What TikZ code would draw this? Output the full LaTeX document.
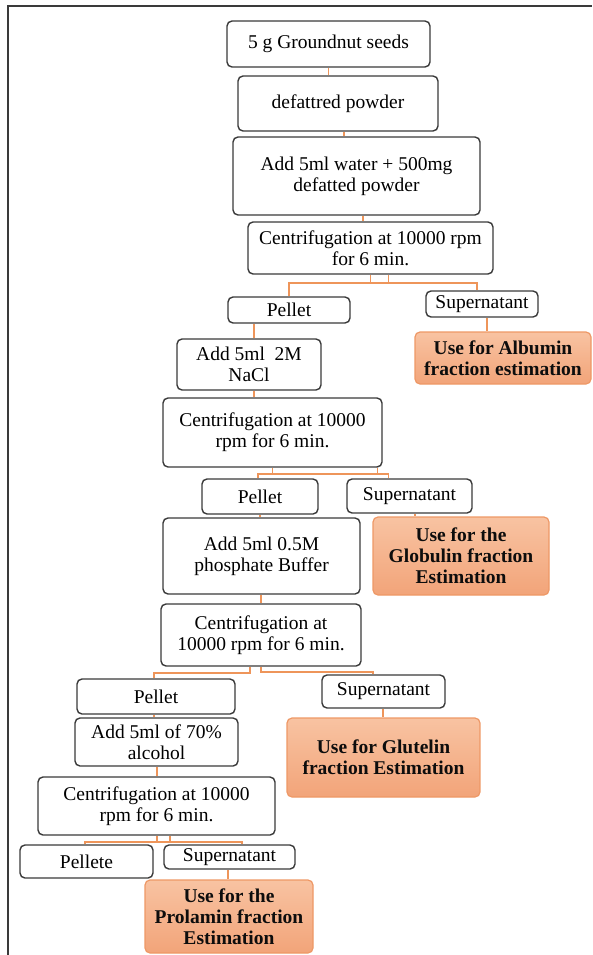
\documentclass[tikz,border=0pt]{standalone}
\usepackage{fontspec}
\setmainfont{Liberation Serif}
\usepackage{tikz}
\definecolor{lnorange}{HTML}{EE955A}
\definecolor{bxgray}{HTML}{3A3A3A}
\definecolor{bxtop}{HTML}{F8C3A2}
\definecolor{bxbot}{HTML}{F2A479}
\definecolor{bxedge}{HTML}{EE9866}
\tikzset{
  flownode/.style = {align=center, inner sep=0pt, text centered,
    font=\fontsize{19.5}{21}\selectfont},
  box_w/.style = {flownode, rectangle, rounded corners=5pt, draw=bxgray,
    line width=1.4pt, fill=white, text=black},% step box, white
  box_o/.style = {flownode, rectangle, rounded corners=5pt, draw=bxedge,
    line width=1.2pt, top color=bxtop, bottom color=bxbot, text=black!95,
    font=\fontsize{19.5}{21}\selectfont\bfseries},% result box, orange
  lnk/.style = {draw=lnorange, line width=1.9pt}% connector
}

\begin{document}
\begin{tikzpicture}[x=1pt,y=-1pt]
        \useasboundingbox (0,0) rectangle (592,955);
        \draw[bxgray, line width=1.3pt] (8,955) -- (8,6) -- (592,6);

        \node[box_w, minimum width=203pt, minimum height=46pt] (seeds) at (328.5,44) {5 g Groundnut seeds};
        \node[box_w, minimum width=200pt, minimum height=55pt] (powder) at (338,103.5) {defattred powder};
        \node[box_w, minimum width=247pt, minimum height=78pt] (water) at (356.5,176) {Add 5ml water + 500mg\\defatted powder};
        \node[box_w, minimum width=245pt, minimum height=52pt] (cent1) at (370.5,248) {Centrifugation at 10000 rpm\\for 6 min.};
        \node[box_w, minimum width=122pt, minimum height=26pt] (pel1) at (289,310) {Pellet};
        \node[box_w, minimum width=112pt, minimum height=26pt] (sup1) at (482,304) {Supernatant};
        \node[box_o, minimum width=176pt, minimum height=52pt] (alb) at (503,358) {Use for Albumin\\fraction estimation};
        \node[box_w, minimum width=144pt, minimum height=51pt] (nacl) at (249,364.5) {Add 5ml\ \ 2M\\NaCl};
        \node[box_w, minimum width=219pt, minimum height=69pt] (cent2) at (272.5,432.5) {Centrifugation at 10000\\rpm for 6 min.};
        \node[box_w, minimum width=116pt, minimum height=35pt] (pel2) at (260,496.5) {Pellet};
        \node[box_w, minimum width=125pt, minimum height=34pt] (sup2) at (409.5,496) {Supernatant};
        \node[box_w, minimum width=197pt, minimum height=76pt] (phos) at (261.5,556) {Add 5ml 0.5M\\phosphate Buffer};
        \node[box_o, minimum width=176pt, minimum height=78pt] (glob) at (461,556) {Use for the\\Globulin fraction\\Estimation};
        \node[box_w, minimum width=200pt, minimum height=62pt] (cent3) at (261,635) {Centrifugation at\\10000 rpm for 6 min.};
        \node[box_w, minimum width=158pt, minimum height=35pt] (pel3) at (156,696.5) {Pellet};
        \node[box_w, minimum width=123pt, minimum height=33pt] (sup3) at (383.5,691.5) {Supernatant};
        \node[box_w, minimum width=163pt, minimum height=48pt] (alc) at (156.5,742) {Add 5ml of 70\%\\alcohol};
        \node[box_o, minimum width=193pt, minimum height=79pt] (glut) at (383.5,757.5) {Use for Glutelin\\fraction Estimation};
        \node[box_w, minimum width=237pt, minimum height=58pt] (cent4) at (156.5,806) {Centrifugation at 10000\\rpm for 6 min.};
        \node[box_w, minimum width=133pt, minimum height=33pt] (pellete) at (86.5,861.5) {Pellete};
        \node[box_w, minimum width=131pt, minimum height=24pt] (sup4) at (229.5,857) {Supernatant};
        \node[box_o, minimum width=168pt, minimum height=73pt] (prol) at (229,916.5) {Use for the\\Prolamin fraction\\Estimation};

        \draw[lnk] (seeds.south) -- (seeds.south |- powder.north);
        \draw[lnk] ([xshift=6pt]powder.south) -- ([xshift=6pt]powder.south |- water.north);
        \draw[lnk] ([xshift=6.5pt]water.south) -- ([xshift=6.5pt]water.south |- cent1.north);
        % first split
        \draw[lnk] (cent1.south) -- ++(0,8) coordinate (s1) -- ++(18,0) -- ++(0,-8);
        \draw[lnk] (pel1.north) |- (s1) -| ([xshift=-5pt]sup1.north);
        \draw[lnk] ([xshift=5pt]sup1.south) -- ([xshift=5pt]sup1.south |- alb.north);
        \draw[lnk] ([xshift=5pt]nacl.north |- pel1.south) -- ([xshift=5pt]nacl.north);
        \draw[lnk] ([xshift=5pt]nacl.south) -- ([xshift=5pt]nacl.south |- cent2.north);
        % second split
        \draw[lnk] (cent2.south) -- ++(0,6) coordinate (s2);
        \draw[lnk] ([xshift=105pt]cent2.south) -- ++(0,6);
        \draw[lnk] ([xshift=-2pt]pel2.north) |- (s2) -| ([xshift=-21pt]sup2.north);
        \draw[lnk] (pel2.south) -- (pel2.south |- phos.north);
        \draw[lnk] ([xshift=5.5pt]sup2.south) -- ([xshift=5.5pt]sup2.south |- glob.north);
        \draw[lnk] ([xshift=-0.5pt]phos.south) -- ([xshift=-0.5pt]phos.south |- cent3.north);
        % third split
        \draw[lnk] ([xshift=-11pt]cent3.south) -- ++(0,6) -| ([xshift=-2pt]pel3.north);
        \draw[lnk] (cent3.south) -- ++(0,5) -| ([xshift=-10.5pt]sup3.north);
        \draw[lnk] ([xshift=-2pt]pel3.south) -- ([xshift=-2pt]pel3.south |- alc.north);
        \draw[lnk] ([xshift=-0.5pt]sup3.south) -- ([xshift=-0.5pt]sup3.south |- glut.north);
        \draw[lnk] ([xshift=0.5pt]alc.south) -- ([xshift=0.5pt]alc.south |- cent4.north);
        % last split
        \draw[lnk] ([xshift=0.5pt]cent4.south) -- ++(0,6) coordinate (s4) -- ++(13,0) -- ++(0,-6);
        \draw[lnk] ([xshift=-1.5pt]pellete.north) |- (s4) -| ([xshift=12.5pt]sup4.north);
        \draw[lnk] ([xshift=-1.5pt]sup4.south) -- ([xshift=-1.5pt]sup4.south |- prol.north);
\end{tikzpicture}
\end{document}
